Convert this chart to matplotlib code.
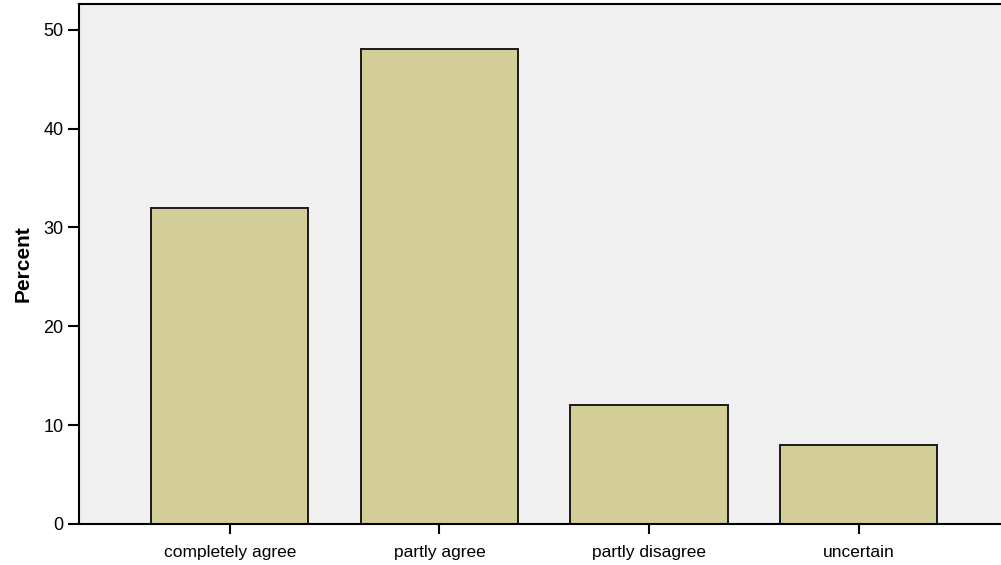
import numpy as np
import matplotlib.pyplot as plt

categories = ['completely agree', 'partly agree', 'partly disagree', 'uncertain']
percent = [32, 48, 12, 8]
y_ticks = [0, 10, 20, 30, 40, 50]


def main():
    plt.rcParams['font.family'] = ['Liberation Sans', 'DejaVu Sans']

    fig = plt.figure(figsize=(10.01, 5.65), dpi=100)
    ax = fig.add_axes([79 / 1001, 41 / 565, 922 / 1001, 520 / 565])
    ax.set_facecolor('#f0f0f0')

    ind = np.arange(len(categories))
    ax.bar(ind, percent, 0.75, color='#d3ce97', edgecolor='#1a1a1a', linewidth=1.4)

    ax.set_xlim(-0.72, 3.68)
    ax.set_ylim(0, 52.6)
    ax.set_xticks(ind)
    ax.set_xticklabels(categories, fontsize=12.5)
    ax.set_yticks(y_ticks)
    ax.tick_params(axis='y', labelsize=13, length=8, width=1.5, direction='out', pad=3)
    ax.tick_params(axis='x', length=7, width=1.5, direction='out', pad=8)

    ax.set_ylabel('Percent', fontsize=15, fontweight='bold', labelpad=8)

    for side in ['left', 'bottom', 'top']:
        ax.spines[side].set_linewidth(1.5)
    ax.spines['right'].set_visible(False)

    plt.savefig('out.png', dpi=100)


if __name__ == '__main__':
    main()
